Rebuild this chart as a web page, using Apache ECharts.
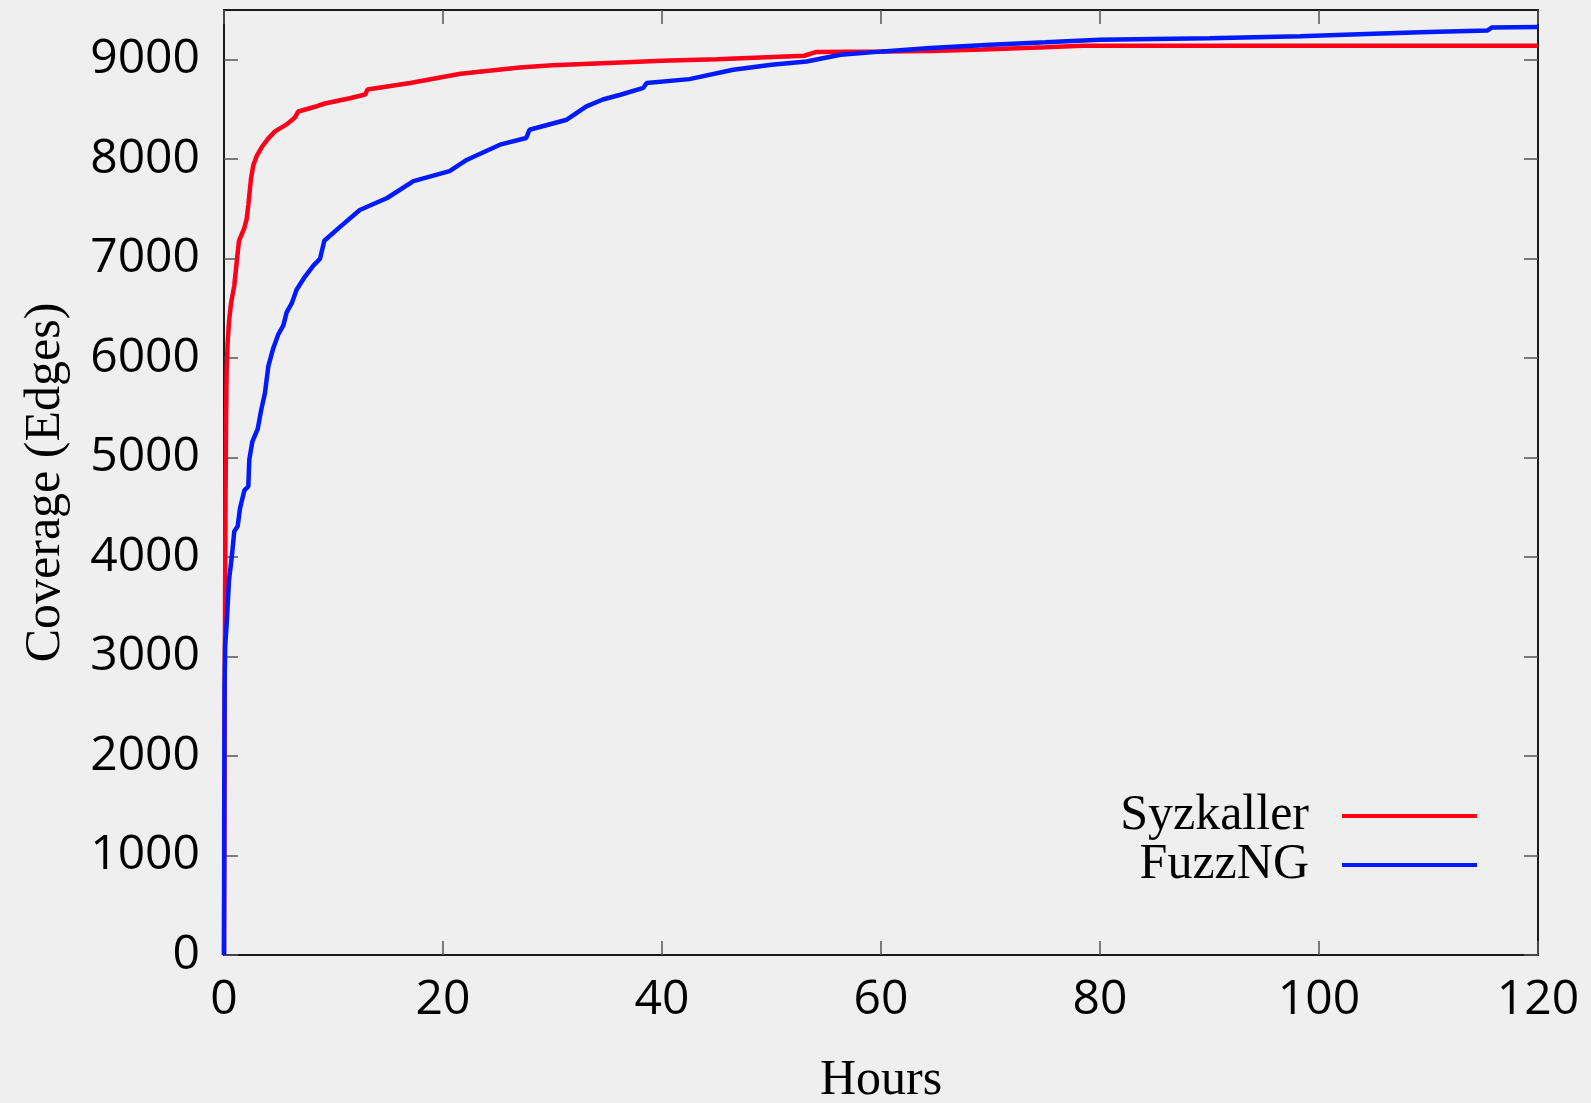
<!DOCTYPE html>
<html>
<head>
<meta charset="utf-8">
<title>Coverage over time</title>
<script src="https://cdn.jsdelivr.net/npm/echarts@6/dist/echarts.min.js"></script>
<style>
  html, body { margin: 0; padding: 0; background: #efefef; }
  #chart { width: 1591px; height: 1103px; }
</style>
</head>
<body>
<div id="chart"></div>
<script>
// Edge coverage over a 120 hour fuzzing campaign
const syzHours = [0, 0.04, 0.07, 0.1, 0.14, 0.19, 0.24, 0.33, 0.46, 0.64, 0.94, 1.19, 1.37, 1.86, 2.07, 2.22, 2.47, 2.68, 2.98, 3.44, 4.05, 4.66, 5.72, 6.48, 6.79, 8.3, 9.2, 11.5, 12.9, 13.1, 17, 21.6, 27, 30, 36.2, 40, 45, 53, 54.1, 60, 64.5, 69.3, 75, 78.4, 90, 100, 120];
const syzEdges = [0, 1200, 2800, 3600, 4600, 5400, 5880, 6150, 6370, 6550, 6730, 7000, 7180, 7310, 7400, 7540, 7810, 7940, 8030, 8120, 8210, 8280, 8350, 8420, 8480, 8527, 8560, 8613, 8650, 8700, 8766, 8860, 8923, 8945, 8973, 8990, 9005, 9040, 9078, 9082, 9088, 9104, 9125, 9140, 9141, 9141, 9141];

const fuzzHours = [0, 0.02, 0.05, 0.1, 0.24, 0.46, 0.7, 0.94, 1.25, 1.46, 1.86, 2.22, 2.31, 2.59, 3.08, 3.38, 3.74, 4.05, 4.5, 4.96, 5.42, 5.72, 6.18, 6.64, 7.4, 8.16, 8.77, 9.16, 10.6, 12.4, 14.9, 17.3, 20.6, 22.2, 25.2, 27.6, 27.9, 31.3, 33.1, 34.6, 36.2, 38.3, 38.6, 42.5, 46.5, 50, 53.2, 56.3, 60.2, 64.5, 70, 75, 80, 90, 98.3, 105, 110, 115.4, 115.8, 120];
const fuzzEdges = [0, 1500, 2700, 3100, 3320, 3770, 3990, 4260, 4310, 4490, 4670, 4710, 4980, 5160, 5290, 5470, 5650, 5920, 6100, 6240, 6330, 6460, 6550, 6690, 6820, 6930, 7000, 7180, 7320, 7490, 7610, 7780, 7880, 7995, 8146, 8213, 8296, 8397, 8531, 8600, 8648, 8718, 8766, 8805, 8900, 8950, 8983, 9050, 9084, 9118, 9150, 9175, 9201, 9215, 9235, 9262, 9280, 9295, 9325, 9329];

const xTicks = [0, 20, 40, 60, 80, 100, 120];
const yTicks = [0, 1000, 2000, 3000, 4000, 5000, 6000, 7000, 8000, 9000];

const seriesNames = ['Syzkaller', 'FuzzNG'];
const seriesColors = ['#ff001a', '#001aff'];

const sansFont = '"Open Sans", "Noto Sans", sans-serif';
const serifFont = '"Liberation Serif", "DejaVu Serif", serif';

const pairs = (xs, ys) => xs.map((x, i) => [x, ys[i]]);
const plain = (v) => String(v);

const frameLine = { show: true, onZero: false, lineStyle: { color: '#1a1a1a', width: 2 } };
const innerTick = { show: true, inside: true, length: 14, lineStyle: { color: '#555', width: 1.5 } };

const chart = echarts.init(document.getElementById('chart'), null, { renderer: 'canvas' });

chart.setOption({
  backgroundColor: '#efefef',
  animation: false,
  grid: { left: 224, top: 10, right: 53, bottom: 148, containLabel: false, outerBoundsMode: 'none' },
  legend: {
    orient: 'vertical',
    right: 109,
    top: 786,
    align: 'right',
    icon: 'rect',
    itemWidth: 135,
    itemHeight: 4,
    itemGap: -1,
    data: seriesNames,
    textStyle: { fontFamily: serifFont, fontSize: 50, color: '#000', lineHeight: 48, padding: [0, 28, 0, 0] }
  },
  xAxis: [
    {
      type: 'value', position: 'bottom', min: 0, max: 120, interval: 20,
      axisLine: frameLine,
      axisTick: Object.assign({ customValues: xTicks }, innerTick),
      axisLabel: { customValues: xTicks, formatter: plain, margin: 21, fontSize: 48, fontFamily: sansFont, color: '#000' },
      splitLine: { show: false },
      name: 'Hours', nameLocation: 'middle', nameGap: 101,
      nameTextStyle: { fontFamily: serifFont, fontSize: 50, color: '#000' }
    },
    {
      type: 'value', position: 'top', min: 0, max: 120, interval: 20,
      axisLine: frameLine,
      axisTick: Object.assign({ customValues: xTicks }, innerTick),
      axisLabel: { show: false },
      splitLine: { show: false }
    }
  ],
  yAxis: [
    {
      type: 'value', position: 'left', min: 0, max: 9500, interval: 1000,
      axisLine: frameLine,
      axisTick: Object.assign({ customValues: yTicks }, innerTick),
      axisLabel: { customValues: yTicks, formatter: plain, margin: 24, fontSize: 48, fontFamily: sansFont, color: '#000' },
      splitLine: { show: false },
      name: 'Coverage (Edges)', nameLocation: 'middle', nameGap: 153,
      nameTextStyle: { fontFamily: serifFont, fontSize: 50, color: '#000' }
    },
    {
      type: 'value', position: 'right', min: 0, max: 9500, interval: 1000,
      axisLine: frameLine,
      axisTick: Object.assign({ customValues: yTicks }, innerTick),
      axisLabel: { show: false },
      splitLine: { show: false }
    }
  ],
  series: [
    {
      name: seriesNames[0], type: 'line', xAxisIndex: 0, yAxisIndex: 0,
      data: pairs(syzHours, syzEdges),
      showSymbol: false, symbol: 'none',
      color: seriesColors[0],
      lineStyle: { color: seriesColors[0], width: 4.5 }
    },
    {
      name: seriesNames[1], type: 'line', xAxisIndex: 0, yAxisIndex: 0,
      data: pairs(fuzzHours, fuzzEdges),
      showSymbol: false, symbol: 'none',
      color: seriesColors[1],
      lineStyle: { color: seriesColors[1], width: 4.5 }
    }
  ]
});
</script>
</body>
</html>
